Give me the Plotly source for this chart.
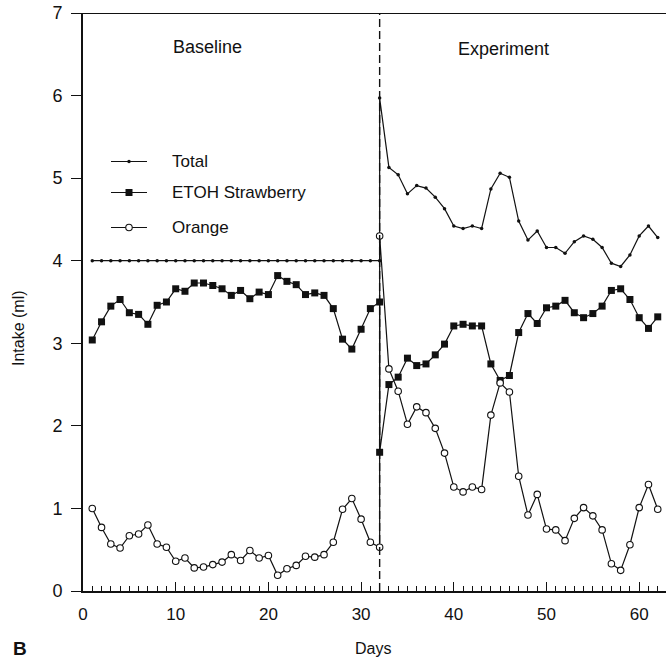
import plotly.graph_objects as go

# ---- data -------------------------------------------------------------
days_baseline = list(range(1, 33))          # days 1..32
days_experiment = list(range(32, 63))       # days 32..62

total_baseline = [4.00, 4.00, 4.00, 4.00, 4.00, 4.00, 4.00, 4.00, 4.00, 4.00,
                  4.00, 4.00, 4.00, 4.00, 4.00, 4.00, 4.00, 4.00, 4.00, 4.00,
                  4.00, 4.00, 4.00, 4.00, 4.00, 4.00, 4.00, 4.00, 4.00, 4.00,
                  4.00, 4.00]
total_experiment = [5.97, 5.13, 5.04, 4.81, 4.91, 4.88, 4.77, 4.63, 4.42, 4.39,
                    4.42, 4.39, 4.87, 5.06, 5.01, 4.48, 4.25, 4.36, 4.16, 4.16,
                    4.09, 4.23, 4.30, 4.26, 4.16, 3.97, 3.93, 4.07, 4.30, 4.42,
                    4.28]

etoh_baseline = [3.04, 3.26, 3.45, 3.53, 3.37, 3.35, 3.23, 3.46, 3.50, 3.66,
                 3.63, 3.73, 3.73, 3.70, 3.66, 3.58, 3.64, 3.54, 3.62, 3.59,
                 3.82, 3.75, 3.71, 3.59, 3.61, 3.58, 3.42, 3.05, 2.93, 3.17,
                 3.42, 3.50]
etoh_experiment = [1.68, 2.50, 2.59, 2.82, 2.73, 2.75, 2.86, 2.99, 3.21, 3.23,
                   3.21, 3.21, 2.75, 2.55, 2.61, 3.13, 3.36, 3.24, 3.43, 3.45,
                   3.52, 3.37, 3.31, 3.36, 3.45, 3.64, 3.66, 3.53, 3.31, 3.18,
                   3.32]

orange_baseline = [1.00, 0.77, 0.57, 0.52, 0.67, 0.69, 0.80, 0.57, 0.53, 0.36,
                   0.40, 0.28, 0.29, 0.32, 0.35, 0.44, 0.37, 0.49, 0.40, 0.43,
                   0.19, 0.27, 0.31, 0.42, 0.41, 0.44, 0.59, 0.99, 1.12, 0.87,
                   0.59, 0.53]
orange_experiment = [4.30, 2.69, 2.42, 2.02, 2.23, 2.16, 1.97, 1.67, 1.26, 1.20,
                     1.26, 1.23, 2.13, 2.52, 2.41, 1.39, 0.92, 1.17, 0.75, 0.74,
                     0.61, 0.88, 1.01, 0.91, 0.74, 0.33, 0.25, 0.56, 1.01, 1.29,
                     0.99]

x_ticks = [0, 10, 20, 30, 40, 50, 60]
y_ticks = [0, 1, 2, 3, 4, 5, 6, 7]
phase_change_day = 32

legend_labels = ["Total", "ETOH Strawberry", "Orange"]

# ---- styling ------------------------------------------------------------
FONT = "Liberation Sans, Arial, Helvetica, sans-serif"
INK = "#111111"
W, H = 666, 665
ML, MR, MT, MB = 83, 0, 13, 74
PW, PH = W - ML - MR, H - MT - MB


def px(xp):
    """Page pixel column -> paper x."""
    return (xp - ML) / PW


def py(yp):
    """Page pixel row -> paper y."""
    return (H - MB - yp) / PH


def label(xp, yp, text, size, xanchor="center", angle=0):
    fig.add_annotation(x=px(xp), y=py(yp), xref="paper", yref="paper",
                       text=text, showarrow=False, textangle=angle,
                       xanchor=xanchor, yanchor="middle",
                       font=dict(family=FONT, size=size, color=INK))


days_all = days_baseline + days_experiment

fig = go.Figure()

fig.add_trace(go.Scatter(
    x=days_all, y=total_baseline + total_experiment, mode="lines+markers",
    line=dict(color=INK, width=1.2),
    marker=dict(symbol="circle", size=3.5, color=INK),
    showlegend=False, name=legend_labels[0]))

fig.add_trace(go.Scatter(
    x=days_all, y=etoh_baseline + etoh_experiment, mode="lines+markers",
    line=dict(color=INK, width=1.2),
    marker=dict(symbol="square", size=7, color=INK),
    showlegend=False, name=legend_labels[1]))

fig.add_trace(go.Scatter(
    x=days_all, y=orange_baseline + orange_experiment, mode="lines+markers",
    line=dict(color=INK, width=1.2),
    marker=dict(symbol="circle", size=6.5, color="white",
                line=dict(color=INK, width=1.1)),
    showlegend=False, name=legend_labels[2]))

# ---- hand-drawn key on a pixel-mapped overlay axis -------------------------
key_rows = [161.5, 192.5, 227.5]
key_styles = [
    dict(symbol="circle", size=3.5, color=INK),
    dict(symbol="square", size=7, color=INK),
    dict(symbol="circle", size=6.5, color="white", line=dict(color=INK, width=1.1)),
]
for yrow, mstyle, name in zip(key_rows, key_styles, legend_labels):
    fig.add_trace(go.Scatter(
        x=[111, 147], y=[yrow, yrow], mode="lines", xaxis="x2", yaxis="y2",
        line=dict(color=INK, width=1.2), showlegend=False, hoverinfo="skip"))
    fig.add_trace(go.Scatter(
        x=[129], y=[yrow], mode="markers", xaxis="x2", yaxis="y2",
        marker=mstyle, showlegend=False, hoverinfo="skip"))
    label(170, yrow, name, 17, xanchor="left")

# ---- frame pieces: top border and phase-change line ------------------------
fig.add_shape(type="line", xref="paper", yref="y", x0=0, x1=1, y0=7, y1=7,
              line=dict(color=INK, width=2))
fig.add_shape(type="line", xref="x", yref="y",
              x0=phase_change_day, x1=phase_change_day, y0=0, y1=7,
              line=dict(color=INK, width=1.4, dash="8px,4px"))

# phase labels
label(207, 47, "Baseline", 18)
label(503, 49, "Experiment", 18)

# axis titles and panel letter
label(373, 648, "Days", 16)
label(18, 328, "Intake (ml)", 16, angle=-90)
label(20, 648, "<b>B</b>", 19)

x_max = PW / 9.27

fig.update_layout(
    width=W, height=H,
    margin=dict(l=ML, r=MR, t=MT, b=MB, pad=0),
    paper_bgcolor="white", plot_bgcolor="white",
    font=dict(family=FONT, color=INK),
    xaxis=dict(
        range=[0, x_max], tickvals=x_ticks, ticktext=[str(v) for v in x_ticks],
        showgrid=False, zeroline=False, showline=True, linecolor=INK, linewidth=2,
        ticks="inside", ticklen=9, tickwidth=1.3, tickcolor=INK,
        ticklabelstandoff=7,
        tickfont=dict(family=FONT, size=17, color=INK),
        minor=dict(dtick=1, tick0=0, ticks="inside", ticklen=5, tickwidth=1,
                   tickcolor=INK, showgrid=False),
    ),
    yaxis=dict(
        range=[0, 7], tickvals=y_ticks, ticktext=[str(v) for v in y_ticks],
        showgrid=False, zeroline=False, showline=True, linecolor=INK, linewidth=2,
        ticks="outside", ticklen=10, tickwidth=1.3, tickcolor=INK,
        ticklabelstandoff=5,
        tickfont=dict(family=FONT, size=18, color=INK),
    ),
    xaxis2=dict(range=[ML, W], overlaying="x", visible=False, fixedrange=True),
    yaxis2=dict(range=[H - MB, MT], overlaying="y", visible=False, fixedrange=True),
    showlegend=False,
)

fig.write_html("out.html")
